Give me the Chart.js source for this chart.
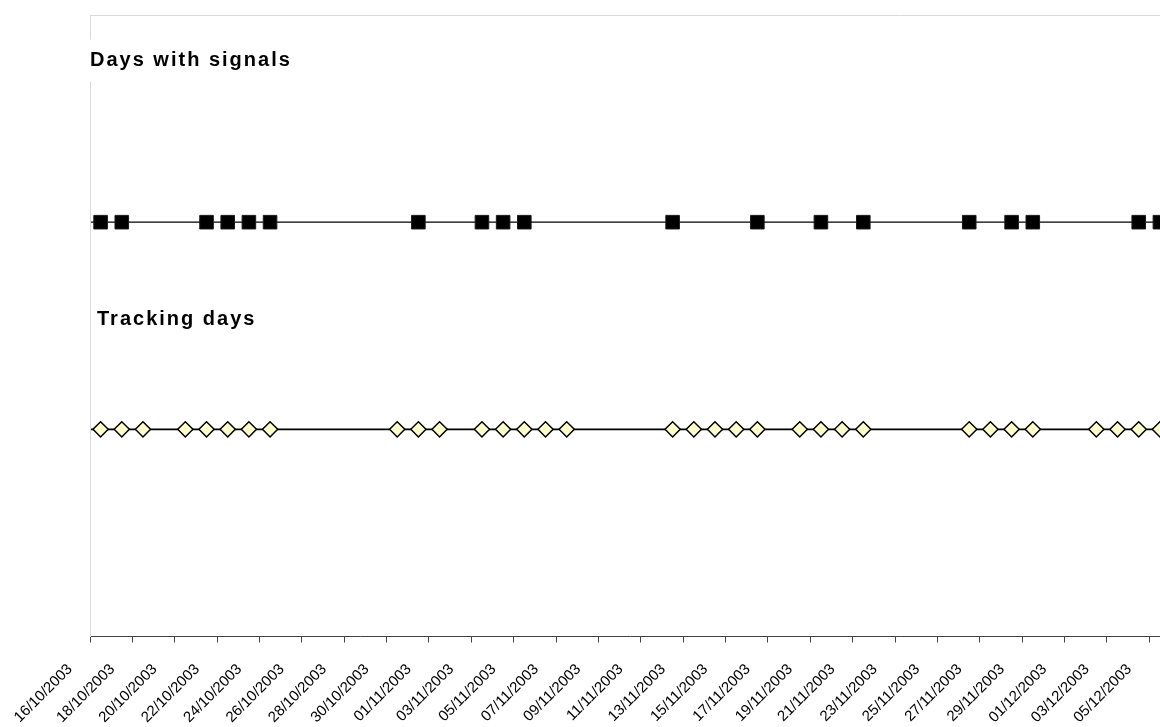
<!DOCTYPE html>
<html>
<head>
<meta charset="utf-8">
<script src="https://cdn.jsdelivr.net/npm/chart.js@4.4.0/dist/chart.umd.min.js"></script>
<style>
  html, body { margin: 0; padding: 0; background: #fff; overflow: hidden; }
  #wrap { width: 1160px; height: 727px; overflow: hidden; position: relative; }
  #chart { position: absolute; left: 0; top: 0; }
</style>
</head>
<body>
<div id="wrap"><canvas id="chart" width="1200" height="760"></canvas></div>
<script>
// ---------------------------------------------
// DATA
// ---------------------------------------------
const trackingDays = [
  "16/10/2003", "17/10/2003", "18/10/2003", "20/10/2003", "21/10/2003", "22/10/2003",
  "23/10/2003", "24/10/2003", "30/10/2003", "31/10/2003", "01/11/2003", "03/11/2003",
  "04/11/2003", "05/11/2003", "06/11/2003", "07/11/2003", "12/11/2003", "13/11/2003",
  "14/11/2003", "15/11/2003", "16/11/2003", "18/11/2003", "19/11/2003", "20/11/2003",
  "21/11/2003", "26/11/2003", "27/11/2003", "28/11/2003", "29/11/2003", "02/12/2003",
  "03/12/2003", "04/12/2003", "05/12/2003"
];

const signalDays = [
  "16/10/2003", "17/10/2003", "21/10/2003", "22/10/2003", "23/10/2003", "24/10/2003",
  "31/10/2003", "03/11/2003", "04/11/2003", "05/11/2003", "12/11/2003", "16/11/2003",
  "19/11/2003", "21/11/2003", "26/11/2003", "28/11/2003", "29/11/2003", "04/12/2003",
  "05/12/2003"
];

const tickLabels = [
  "16/10/2003", "18/10/2003", "20/10/2003", "22/10/2003", "24/10/2003", "26/10/2003",
  "28/10/2003", "30/10/2003", "01/11/2003", "03/11/2003", "05/11/2003", "07/11/2003",
  "09/11/2003", "11/11/2003", "13/11/2003", "15/11/2003", "17/11/2003", "19/11/2003",
  "21/11/2003", "23/11/2003", "25/11/2003", "27/11/2003", "29/11/2003", "01/12/2003",
  "03/12/2003", "05/12/2003"
];

const axisEnd = "06/12/2003";
const seriesNames = ["Days with signals", "Tracking days"];
const seriesLevels = [2, 1];

// ---------------------------------------------
// HELPERS
// ---------------------------------------------
function dayIndex(str) {
  const p = str.split("/").map(Number);
  const t0 = tickLabels[0].split("/").map(Number);
  return (Date.UTC(p[2], p[1] - 1, p[0]) - Date.UTC(t0[2], t0[1] - 1, t0[0])) / 86400000;
}

// each day sits in the middle of its slot
function toPoints(days, level) {
  return days.map(d => ({ x: dayIndex(d) + 0.5, y: level }));
}

// horizontal line of each series across the whole axis + text labels
const seriesDecor = {
  id: "seriesDecor",
  beforeDatasetsDraw(chart) {
    const { ctx, chartArea, scales } = chart;
    ctx.save();
    // top border
    ctx.strokeStyle = "#d9d9d9";
    ctx.lineWidth = 1;
    ctx.beginPath();
    ctx.moveTo(chartArea.left, chartArea.top + 0.5);
    ctx.lineTo(chartArea.right, chartArea.top + 0.5);
    ctx.stroke();

    ctx.strokeStyle = "#000";
    seriesLevels.forEach((lvl, i) => {
      const y = scales.y.getPixelForValue(lvl);
      ctx.lineWidth = i === 0 ? 1.3 : 1.6;
      ctx.beginPath();
      ctx.moveTo(chartArea.left + 1, y);
      ctx.lineTo(chartArea.right, y);
      ctx.stroke();
    });
    ctx.restore();
  },
  afterDraw(chart, args, opts) {
    const { ctx, scales } = chart;
    ctx.save();
    ctx.font = "bold 20px 'Liberation Sans', Arial, sans-serif";
    ctx.letterSpacing = "2px";
    ctx.textBaseline = "middle";
    opts.labels.forEach(l => {
      const x = chart.chartArea.left + l.dx;
      const y = scales.y.getPixelForValue(l.level);
      const w = ctx.measureText(l.text).width;
      ctx.fillStyle = "#fff";
      ctx.fillRect(x - 4, y - 21, w + 10, 42);
      ctx.fillStyle = "#000";
      ctx.fillText(l.text, x, y);
    });
    ctx.restore();
  }
};

// ---------------------------------------------
// CHART
// ---------------------------------------------
const ctx = document.getElementById("chart");

new Chart(ctx, {
  type: "scatter",
  data: {
    datasets: [
      {
        label: seriesNames[0],
        data: toPoints(signalDays, seriesLevels[0]),
        showLine: false,
        pointStyle: "rect",
        pointRadius: 9.6,
        pointBackgroundColor: "#000",
        pointBorderColor: "#1a1a1a",
        pointBorderWidth: 1
      },
      {
        label: seriesNames[1],
        data: toPoints(trackingDays, seriesLevels[1]),
        showLine: false,
        pointStyle: "rectRot",
        pointRadius: 7.6,
        pointBackgroundColor: "#ffffcc",
        pointBorderColor: "#000",
        pointBorderWidth: 1.5
      }
    ]
  },
  options: {
    responsive: false,
    animation: false,
    events: [],
    layout: { padding: { top: 15, right: 1200 - 1170.5, left: 0, bottom: 0 } },
    plugins: {
      legend: { display: false },
      tooltip: { enabled: false },
      seriesDecor: {
        labels: [
          { text: seriesNames[0], level: 2.78, dx: 0 },
          { text: seriesNames[1], level: 1.53, dx: 7 }
        ]
      }
    },
    scales: {
      x: {
        type: "linear",
        min: 0,
        max: dayIndex(axisEnd),
        afterBuildTicks: scale => {
          scale.ticks = tickLabels.map(t => ({ value: dayIndex(t) }));
        },
        afterFit: scale => { scale.height = 760 - 636.5; },
        ticks: {
          autoSkip: false,
          minRotation: 45,
          maxRotation: 45,
          padding: 18,
          labelOffset: -20,
          color: "#000",
          font: { family: "'Liberation Sans', Arial, sans-serif", size: 15 },
          callback: (v, i) => tickLabels[i]
        },
        grid: {
          drawOnChartArea: false,
          drawTicks: true,
          tickLength: 6,
          color: "#444"
        },
        border: { color: "#444", width: 1 }
      },
      y: {
        min: 0,
        max: 3,
        afterFit: scale => { scale.width = 90; },
        ticks: { display: false },
        grid: { display: false },
        border: { color: "#d9d9d9", width: 1 }
      }
    }
  },
  plugins: [seriesDecor]
});
</script>
</body>
</html>
